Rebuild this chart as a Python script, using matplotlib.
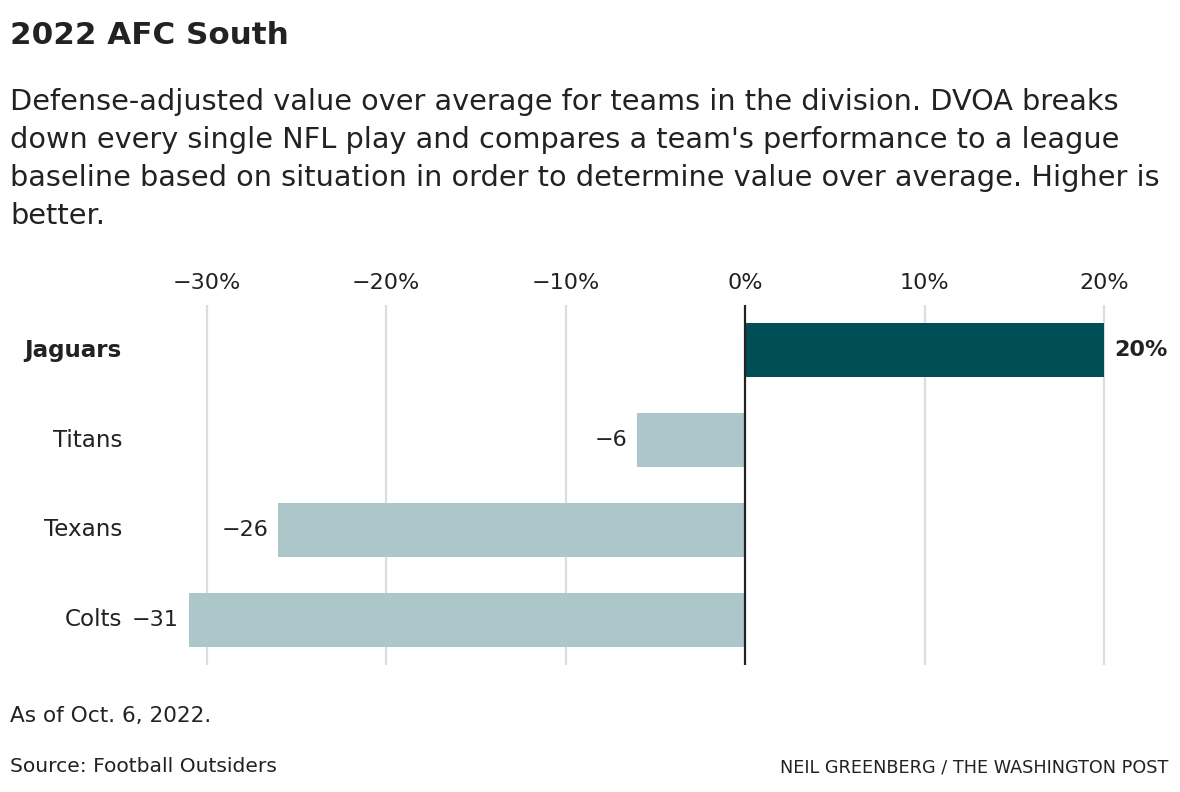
import matplotlib.pyplot as plt
import matplotlib.transforms as mtransforms

plt.rcParams['font.family'] = ['DejaVu Sans']

# data
teams = ['Jaguars', 'Titans', 'Texans', 'Colts']
dvoa = [20, -6, -26, -31]
value_labels = ['20%', '\u22126', '\u221226', '\u221231']
ticks = [-30, -20, -10, 0, 10, 20]
tick_labels = ['\u221230%', '\u221220%', '\u221210%', '0%', '10%', '20%']

dark = '#024e57'
light = '#adc6ca'
txt = '#222222'

fig = plt.figure(figsize=(11.8, 7.92), dpi=100)
W, H = 1180, 792

# axes placed in pixels
x0, x1 = -33, 22.5
ppu = 17.95
left_px = 745 + x0 * ppu
ax = fig.add_axes([left_px / W, 1 - 665 / H, (x1 - x0) * ppu / W, 360 / H])

colors = [dark] + [light] * (len(teams) - 1)
y = range(len(teams))
ax.barh(y, dvoa, height=0.6, color=colors, zorder=2)
ax.set_xlim(x0, x1)
ax.set_ylim(3.5, -0.5)

for t in ticks:
    if t != 0:
        ax.axvline(t, color='#dddddd', lw=1.6, zorder=1)
ax.axvline(0, color=txt, lw=1.6, zorder=3)

fs = 16
ax.xaxis.tick_top()
ax.set_xticks(ticks)
ax.set_xticklabels(tick_labels, fontsize=fs, color=txt)
ax.tick_params(axis='x', length=0, pad=9)
ax.set_yticks([])
for s in ax.spines.values():
    s.set_visible(False)

# team labels at fixed pixel x
trans = mtransforms.blended_transform_factory(fig.transFigure, ax.transData)
for i, name in enumerate(teams):
    ax.text(122 / W, i, name, transform=trans, ha='right', va='center',
            fontsize=16.6, color=txt, fontweight='bold' if i == 0 else 'normal')

# value labels
for i, (v, lab) in enumerate(zip(dvoa, value_labels)):
    d = 10 if v > 0 else -10
    tr = mtransforms.offset_copy(ax.transData, fig=fig, x=d, y=0, units='dots')
    ax.text(v, i, lab, transform=tr, ha='left' if v > 0 else 'right',
            va='center', fontsize=fs, color=txt,
            fontweight='bold' if i == 0 else 'normal', clip_on=False)

# titles
fig.text(10 / W, 1 - 35 / H, '2022 AFC South', fontsize=22.3, fontweight='bold',
         color=txt, va='center', ha='left')
sub = ["Defense-adjusted value over average for teams in the division. DVOA breaks",
       "down every single NFL play and compares a team's performance to a league",
       "baseline based on situation in order to determine value over average. Higher is",
       "better."]
for k, line in enumerate(sub):
    fig.text(10 / W, 1 - (102 + 38 * k) / H, line, fontsize=20.7, color=txt,
             va='center', ha='left')

fig.text(10 / W, 1 - 716 / H, 'As of Oct. 6, 2022.', fontsize=15.6, color=txt,
         va='center', ha='left')
fig.text(10 / W, 1 - 767 / H, 'Source: Football Outsiders', fontsize=14.6,
         color=txt, va='center', ha='left')
fig.text(1168 / W, 1 - 767 / H, 'NEIL GREENBERG / THE WASHINGTON POST',
         fontsize=12.7, color=txt, va='center', ha='right')

fig.savefig('out.png', dpi=100, facecolor='white')
